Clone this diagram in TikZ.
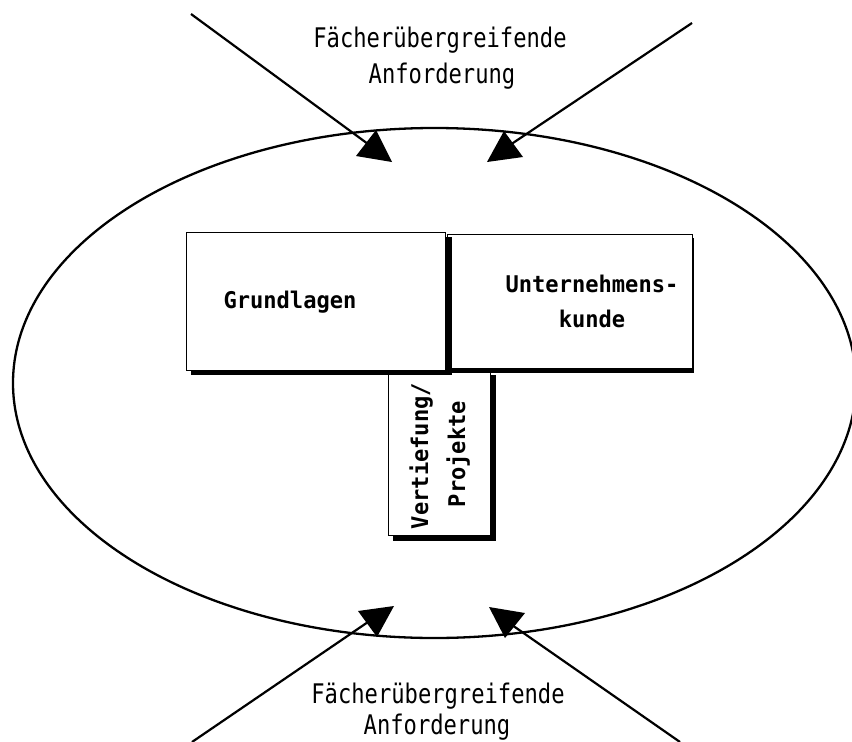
\documentclass[tikz,border=0pt]{standalone}
\usepackage{fontspec}
\newfontfamily\twfont[FakeStretch=0.82]{DejaVu Sans Mono}
\newfontfamily\twbfont[FakeStretch=0.96]{DejaVu Sans Mono}
\begin{document}
\begin{tikzpicture}[x=1pt,y=-1pt,
  outer/.style={font=\twfont\fontsize{27}{30}\selectfont, inner sep=0pt, anchor=base},
  lbl/.style={font=\twbfont\bfseries\fontsize{23}{26}\selectfont, inner sep=0pt, anchor=base},
  boxb/.style={draw=black, fill=white, line width=1.4pt, anchor=north west, inner sep=0pt},
  shad/.style={fill=black},
  lin/.style={line width=2.2pt},
  tri/.style={fill=black}]
\useasboundingbox (0,0) rectangle (852,742);
\fill[white] (0,0) rectangle (852,742);
% oval
\draw[line width=2.3pt] (434.5,383) ellipse [x radius=421.5pt, y radius=255pt];
% Vertiefung box
\fill[shad] (393,375) rectangle (496,541);
\node[boxb, minimum width=102pt, minimum height=165pt] (vert) at (388,370) {};
% Unternehmenskunde box
\fill[shad] (451,238) rectangle (694,373);
\node[boxb, minimum width=245pt, minimum height=134pt] (unt) at (447,234) {};
% Grundlagen box
\fill[shad] (191,237) rectangle (452,375);
\node[boxb, minimum width=259pt, minimum height=138pt] (grund) at (186,232) {};
% labels
\node[lbl] (lg) at (290,308) {Grundlagen};
\node[lbl] (lu1) at (592,292) {Unternehmens-};
\node[lbl] (lu2) at (592,327) {kunde};
\node[lbl, rotate=90] (lv1) at (428,456) {Vertiefung/};
\node[lbl, rotate=90] (lv2) at (465,454) {Projekte};
% outer texts
\node[outer] (t1) at (440,47) {Fächerübergreifende};
\node[outer] (t2) at (442,83) {Anforderung};
\node[outer] (b1) at (438,703) {Fächerübergreifende};
\node[outer] (b2) at (437,734) {Anforderung};
% arrows
\coordinate (s1) at (191,14);   \coordinate (e1) at (368,144);
\coordinate (s2) at (692,23);   \coordinate (e2) at (510,145);
\coordinate (s3) at (192,742);  \coordinate (e3) at (368,622);
\coordinate (s4) at (680,742);  \coordinate (e4) at (512,625);
\draw[lin] (s1) -- (e1);
\draw[lin] (s2) -- (e2);
\draw[lin] (s3) -- (e3);
\draw[lin] (s4) -- (e4);
\fill[tri] (376,130) -- (356,156) -- (392,162) -- cycle;
\fill[tri] (504,131) -- (487,162) -- (523,157) -- cycle;
\fill[tri] (358,611) -- (394,606) -- (377,637) -- cycle;
\fill[tri] (489,607) -- (525,613) -- (505,638) -- cycle;
\end{tikzpicture}
\end{document}
